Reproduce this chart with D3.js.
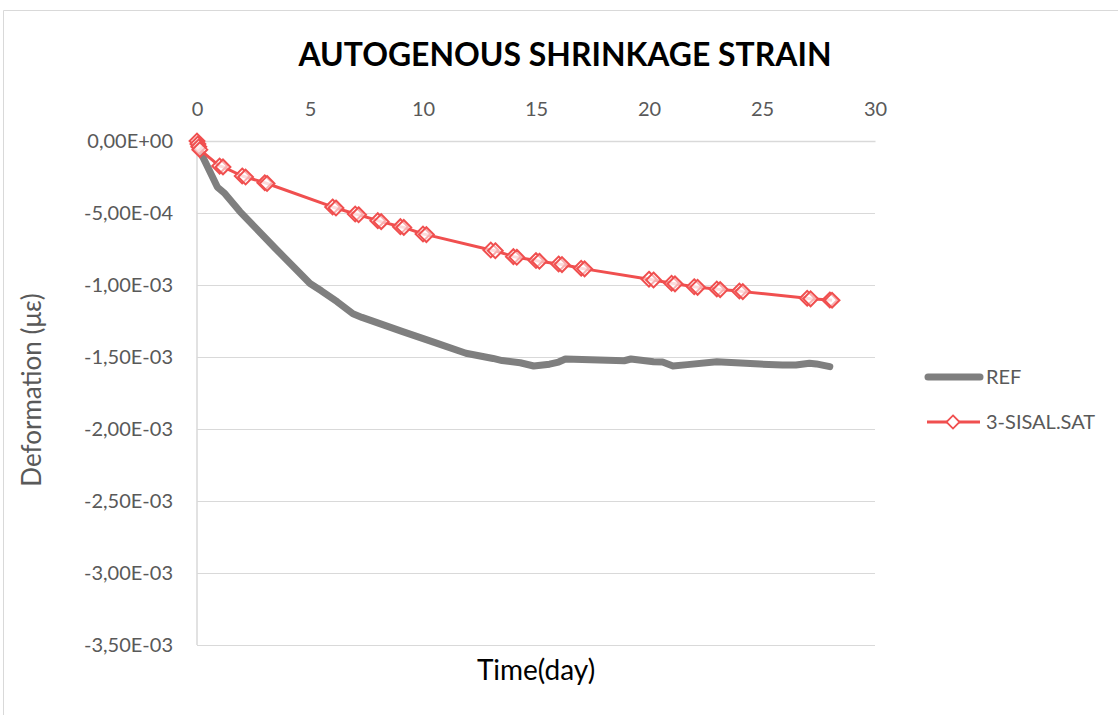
<!DOCTYPE html>
<html>
<head>
<meta charset="utf-8">
<script src="https://cdn.jsdelivr.net/npm/d3@7"></script>
<style>
  html, body { margin: 0; padding: 0; background: #ffffff; }
  svg { display: block; }
</style>
</head>
<body>
<svg id="chart" width="1118" height="715"></svg>
<script>
// ---- data ----
const refDays = [0, 0.1, 0.9, 1.2, 1.9, 3.45, 5, 5.5, 6.2, 6.9, 7.3, 9.1, 10.5, 11.9, 13.1, 13.5, 14.3, 14.9, 15.6, 16.0, 16.3, 18.9, 19.2, 20.2, 20.6, 21.06, 21.7, 23, 24.9, 25.9, 26.5, 27.1, 27.4, 28];
const refValues = [-0.00002, -0.00006, -0.00032, -0.00036, -0.00049, -0.000743, -0.00099, -0.00104, -0.001116, -0.0012, -0.001225, -0.001324, -0.001398, -0.001474, -0.00151, -0.001525, -0.00154, -0.0015625, -0.00155, -0.001535, -0.001514, -0.001526, -0.001514, -0.001533, -0.001535, -0.0015625, -0.001553, -0.001533, -0.001549, -0.001556, -0.001556, -0.001544, -0.001548, -0.001567];

const sisalDays = [0, 0.04, 0.08, 0.125, 1, 1.15, 2, 2.15, 3, 3.1, 6, 6.15, 7, 7.15, 8, 8.15, 9, 9.15, 10, 10.15, 13, 13.2, 14, 14.15, 15, 15.15, 16, 16.15, 17, 17.15, 20, 20.2, 21, 21.15, 22, 22.15, 23, 23.15, 24, 24.15, 27, 27.15, 28, 28.1];
const sisalValues = [0, -0.00002, -0.00004, -0.00006, -0.000174, -0.00018, -0.000243, -0.00025, -0.00029, -0.000295, -0.000458, -0.000465, -0.000507, -0.000512, -0.000553, -0.00056, -0.000595, -0.0006, -0.000646, -0.00065, -0.000757, -0.000762, -0.000803, -0.000807, -0.00083, -0.000835, -0.000854, -0.000858, -0.000884, -0.000888, -0.00096, -0.000965, -0.000988, -0.000992, -0.001012, -0.001016, -0.001028, -0.001032, -0.001042, -0.001046, -0.001092, -0.001096, -0.001104, -0.001106];

const xTicks = [0, 5, 10, 15, 20, 25, 30];
const yTicks = [0, -0.0005, -0.001, -0.0015, -0.002, -0.0025, -0.003, -0.0035];
const seriesNames = ["REF", "3-SISAL.SAT"];
const titleText = "AUTOGENOUS SHRINKAGE STRAIN";
const xTitle = "Time(day)";
const yTitle = "Deformation (με)";

// ---- layout ----
const svg = d3.select("#chart");
const W = 1118, H = 715;
const plot = { left: 197, right: 875, top: 141, bottom: 645 };
const RED = "#f04f4f";
const GRAY = "#7f7f7f";
const TXT = "#595959";
const GRID = "#d9d9d9";
const FONT = "Lato, 'Open Sans', sans-serif";

svg.append("rect").attr("width", W).attr("height", H).attr("fill", "#fff");
// outer chart frame
svg.append("path")
  .attr("d", `M3.5,${H} L3.5,10.5 L${W},10.5`)
  .attr("fill", "none").attr("stroke", GRID).attr("stroke-width", 1);

const x = d3.scaleLinear().domain([0, 30]).range([plot.left, plot.right]);
const y = d3.scaleLinear().domain([0, -0.0035]).range([plot.top, plot.bottom]);

function fmtSci(v) {
  const s = v.toExponential(2);
  let [m, e] = s.split("e");
  m = m.replace(".", ",");
  const sign = e[0] === "-" ? "-" : "+";
  const digits = e.replace(/[+-]/, "").padStart(2, "0");
  return m + "E" + sign + digits;
}

// gridlines
const yAxis = d3.axisLeft(y).tickValues(yTicks).tickFormat(fmtSci)
  .tickSize(-(plot.right - plot.left)).tickPadding(24);
const gy = svg.append("g").attr("transform", `translate(${plot.left},0)`).call(yAxis);
gy.select(".domain").remove();
gy.selectAll(".tick line").attr("stroke", GRID).attr("stroke-width", 1);
gy.selectAll(".tick text").attr("fill", TXT).attr("font-family", FONT).attr("font-size", 20);

// vertical axis line (y axis at x=0)
svg.append("line")
  .attr("x1", x(0)).attr("x2", x(0)).attr("y1", y(0)).attr("y2", y(-0.0035))
  .attr("stroke", GRID).attr("stroke-width", 1.5);

// x axis (labels at top, axis crosses at 0)
const xAxis = d3.axisTop(x).tickValues(xTicks).tickFormat(d3.format("d")).tickSize(0).tickPadding(25);
const gx = svg.append("g").attr("transform", `translate(0,${y(0)})`).call(xAxis);
gx.select(".domain").attr("stroke", GRID).attr("stroke-width", 1.5);
gx.selectAll(".tick text").attr("fill", TXT).attr("font-family", FONT).attr("font-size", 20);

// REF line
const refData = refDays.map((d, i) => [d, refValues[i]]);
const sisalData = sisalDays.map((d, i) => [d, sisalValues[i]]);
const line = d3.line().x(d => x(d[0])).y(d => y(d[1]));

svg.append("path").datum(refData)
  .attr("d", line).attr("fill", "none").attr("stroke", GRAY)
  .attr("stroke-width", 7).attr("stroke-linejoin", "round").attr("stroke-linecap", "round");

svg.append("path").datum(sisalData)
  .attr("d", line).attr("fill", "none").attr("stroke", RED)
  .attr("stroke-width", 3).attr("stroke-linejoin", "round");

const diamond = d3.symbol().type(d3.symbolDiamond2).size(140);
svg.append("g").selectAll("path").data(sisalData).join("path")
  .attr("transform", d => `translate(${x(d[0])},${y(d[1])})`)
  .attr("d", diamond)
  .attr("fill", "#fff").attr("fill-opacity", 0.55)
  .attr("stroke", RED).attr("stroke-width", 2);

// title
svg.append("text").attr("x", 565).attr("y", 66)
  .attr("text-anchor", "middle").attr("font-family", FONT).attr("font-weight", 700)
  .attr("font-size", 32).attr("fill", "#000")
  .attr("textLength", 533).attr("lengthAdjust", "spacingAndGlyphs")
  .text(titleText);

// axis titles
svg.append("text").attr("x", 536).attr("y", 680)
  .attr("text-anchor", "middle").attr("font-family", FONT).attr("font-size", 28)
  .attr("fill", "#000").text(xTitle);

svg.append("text")
  .attr("transform", `translate(41,390) rotate(-90)`)
  .attr("text-anchor", "middle").attr("font-family", FONT).attr("font-size", 26)
  .attr("fill", TXT).text(yTitle);

// legend
const lg = svg.append("g");
lg.append("line").attr("x1", 928).attr("x2", 980).attr("y1", 377).attr("y2", 377)
  .attr("stroke", GRAY).attr("stroke-width", 7).attr("stroke-linecap", "round");
lg.append("text").attr("x", 986).attr("y", 384).attr("font-family", FONT).attr("font-size", 20)
  .attr("fill", TXT).text(seriesNames[0]);
lg.append("line").attr("x1", 927).attr("x2", 980).attr("y1", 422).attr("y2", 422)
  .attr("stroke", RED).attr("stroke-width", 3);
lg.append("path").attr("transform", "translate(953,422)").attr("d", d3.symbol().type(d3.symbolDiamond2).size(110))
  .attr("fill", "#fff").attr("stroke", RED).attr("stroke-width", 1.8);
lg.append("text").attr("x", 986).attr("y", 429).attr("font-family", FONT).attr("font-size", 20)
  .attr("fill", TXT).text(seriesNames[1]);
</script>
</body>
</html>
